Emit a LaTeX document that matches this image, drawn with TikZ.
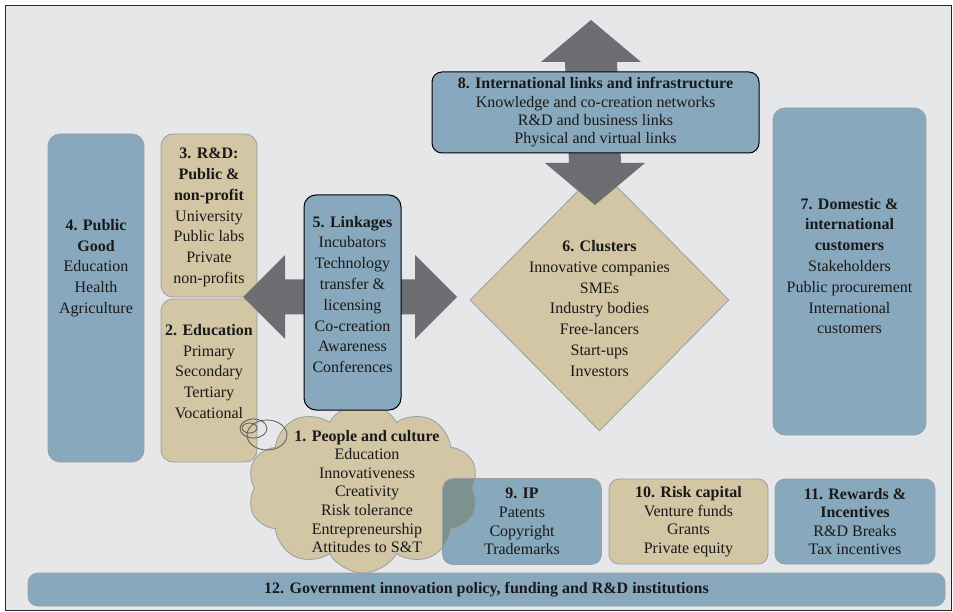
\documentclass[tikz,border=0pt]{standalone}
\usepackage{fontspec}
\setmainfont{Liberation Serif}
\usetikzlibrary{shapes.geometric}
\usetikzlibrary{shapes.symbols}
\definecolor{bgcol}{HTML}{E6E7E9}
\definecolor{boxblue}{HTML}{88A8BD}
\definecolor{boxtan}{HTML}{D3C6A5}
\definecolor{arrgray}{HTML}{6D6E72}
\definecolor{mixcol}{HTML}{7B928E}
\definecolor{edgegray}{HTML}{9A9EA2}

\begin{document}
\begin{tikzpicture}[x=1pt,y=-1pt,
  blubox/.style={draw=edgegray,fill=boxblue,rounded corners=12pt,line width=0.8pt,inner sep=0pt},
  tanbox/.style={draw=edgegray,fill=boxtan,rounded corners=12pt,line width=0.8pt,inner sep=0pt},
  keybox/.style={draw=black,fill=boxblue,rounded corners=12pt,line width=1pt,inner sep=0pt},
  txt/.style={align=center,inner sep=0pt,text=black!90,font=\fontsize{16}{20.8}\selectfont},
  txts/.style={align=center,inner sep=0pt,text=black!90,font=\fontsize{16}{18.6}\selectfont},
  puff/.style={cloud,cloud puffs=10,cloud puff arc=120,aspect=1.36,inner sep=0pt,minimum width=231pt,minimum height=170pt,draw=edgegray,line width=0.8pt},
  bubble/.style={draw=black!65,line width=0.8pt}]

        \useasboundingbox (0,0) rectangle (953,612);
        \draw[fill=bgcol,draw=black!85,line width=0.8pt] (5,5) rectangle (951,610);

        \node[blubox,minimum width=96pt,minimum height=328pt] (good) at (96,298) {};
        \node[txt] (goodtxt) at ([yshift=30pt]good.center) {\textbf{4. Public}\\\textbf{Good}\\Education\\Health\\Agriculture};

        \node[tanbox,minimum width=96pt,minimum height=163pt] (rnd) at (209,215.5) {};
        \node[txt] (rndtxt) at ([yshift=-2pt]rnd.center) {\textbf{3. R\&D:}\\\textbf{Public \&}\\\textbf{non-profit}\\University\\Public labs\\Private\\non-profits};

        \node[tanbox,minimum width=96pt,minimum height=163pt] (edu) at (209,380.5) {};
        \node[txt] (edutxt) at ([yshift=9pt]edu.center) {\textbf{2. Education}\\Primary\\Secondary\\Tertiary\\Vocational};

        \node[tanbox,diamond,rounded corners=0pt,minimum width=259pt,minimum height=262pt] (clus) at (599.5,300) {};
        \node[txt] (clustxt) at ([yshift=-8.5pt]clus.center) {\textbf{6. Clusters}\\Innovative companies\\SMEs\\Industry bodies\\Free-lancers\\Start-ups\\Investors};

        \node[blubox,minimum width=153pt,minimum height=327pt] (cust) at (849.5,271.5) {};
        \node[txt] (custtxt) at ([yshift=5.5pt]cust.center) {\textbf{7. Domestic \&}\\\textbf{international}\\\textbf{customers}\\Stakeholders\\Public procurement\\International\\customers};

        \node[blubox,rounded corners=10pt,minimum width=158pt,minimum height=85pt] (ip) at (522,521.5) {};
        \node[txts] (iptxt) at (ip.center) {\textbf{9. IP}\\Patents\\Copyright\\Trademarks};

        \node[tanbox,rounded corners=10pt,minimum width=159pt,minimum height=85pt] (risk) at (688.5,521.5) {};
        \node[txts] (risktxt) at (risk.center) {\textbf{10. Risk capital}\\Venture funds\\Grants\\Private equity};

        \node[blubox,rounded corners=10pt,minimum width=160pt,minimum height=85pt] (reward) at (855,521.5) {};
        \node[txts] (rewardtxt) at (reward.center) {\textbf{11. Rewards \&}\\\textbf{Incentives}\\R\&D Breaks\\Tax incentives};

        \node[blubox,rounded corners=10pt,minimum width=917pt,minimum height=33pt] (gov) at (486.5,589.5) {};
        \node[txts] (govtxt) at (gov.center) {\textbf{12. Government innovation policy, funding and R\&D institutions}};

        % people and culture
        \node[puff,fill=boxtan] (people) at (363,488) {};
        \begin{scope}
          \clip[rounded corners=10pt] (443,479) rectangle (601,564);
          \node[puff,fill=mixcol] (peoplemix) at (363,488) {};
        \end{scope}
        \draw[edgegray,line width=0.8pt,rounded corners=10pt] (ip.south west) rectangle (ip.north east);
        \node[txts] (peopletxt) at (367,491.5) {\textbf{1. People and culture}\\Education\\Innovativeness\\Creativity\\Risk tolerance\\Entrepreneurship\\Attitudes to S\&T};
        \draw[bubble] (267,435) ellipse [x radius=20pt,y radius=15pt];
        \draw[bubble] (253.5,428.5) ellipse [x radius=13.5pt,y radius=9.5pt];
        \draw[bubble] (249.5,428) ellipse [x radius=7.5pt,y radius=5pt];

        \fill[arrgray] (243,297) -- (285,255) -- (285,279.5) -- (415,279.5) -- (415,255) -- (457,297)
          -- (415,339) -- (415,314.5) -- (285,314.5) -- (285,339) -- cycle;

        \node[keybox,minimum width=97pt,minimum height=215pt] (link) at (352.5,302.5) {};
        \node[txt] (linktxt) at ([yshift=8pt]link.center) {\textbf{5. Linkages}\\Incubators\\Technology\\transfer \&\\licensing\\Co-creation\\Awareness\\Conferences};

        \fill[arrgray] (591,20) -- (641,62) -- (617,62) -- (621,163) -- (645,163) -- (595,205)
          -- (545,163) -- (569,163) -- (565,62) -- (541,62) -- cycle;

        \node[keybox,rounded corners=10pt,minimum width=327pt,minimum height=81pt] (intl) at (595.5,112.5) {};
        \node[txts,font=\fontsize{16}{18.3}\selectfont] (intltxt) at (intl.center) {\textbf{8. International links and infrastructure}\\Knowledge and co-creation networks\\R\&D and business links\\Physical and virtual links};

\end{tikzpicture}
\end{document}
